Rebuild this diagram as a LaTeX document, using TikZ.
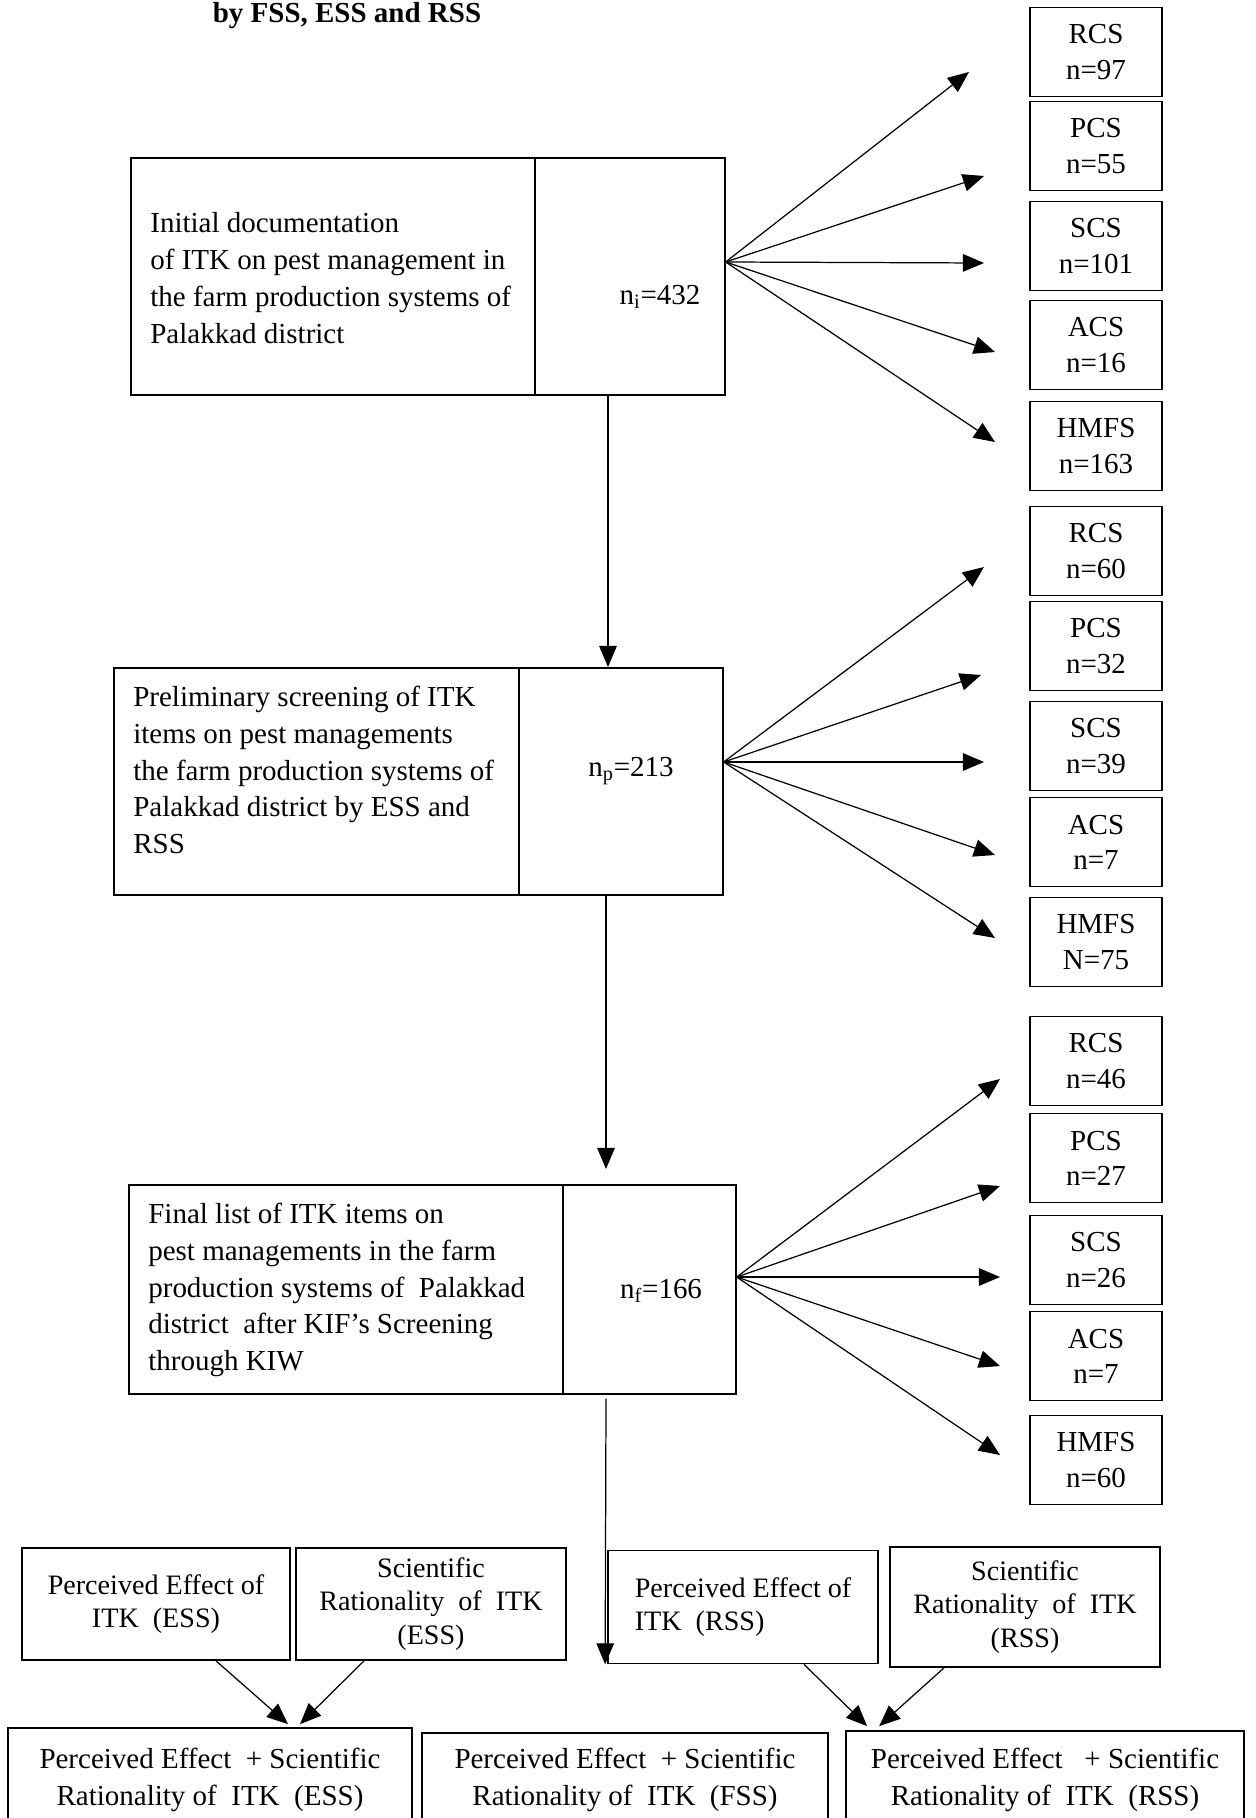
\documentclass[tikz,border=0pt]{standalone}
\usepackage{fontspec}
\setmainfont{Liberation Serif}
\usetikzlibrary{arrows.meta,calc,positioning}

\tikzset{
  stagebox/.style={draw, line width=1pt, inner sep=0pt, anchor=north west},
  stagetext/.style={align=left, inner sep=0pt, anchor=west},
  countbox/.style={draw, line width=1pt, minimum width=2.64cm, minimum height=1.78cm, align=center, inner sep=0pt, font=\fontsize{16.5}{20}\selectfont},
  effectbox/.style={draw, line width=1pt, inner sep=0pt, align=center, font=\fontsize{16}{19}\selectfont},
  sumbox/.style={draw, line width=1pt, inner sep=0pt, align=center},
  fan/.style={line width=0.7pt, -{Triangle[length=12pt,width=10pt]}},
}

\begin{document}
\begin{tikzpicture}[x=0.02cm, y=-0.02cm, font=\fontsize{16.5}{21}\selectfont]
	\clip (0,0) rectangle (1255,1818);
	
	%%%%% TITLE %%%%%
	\node[font=\bfseries\fontsize{16.5}{21}\selectfont] (title) at (347,16) {by FSS, ESS and RSS};
	
	%%%%% STAGES %%%%%
	\node[stagebox, minimum width=11.88cm, minimum height=4.74cm] (box1) at (130,157) {};
	\draw[line width=1pt] (535,157) -- (535,394);
	\node[stagetext] (txt1) at (150,278) {Initial documentation\\ of ITK on pest management in\\ the farm production systems of\\ Palakkad district};
	\node (ni) at (660,297) {n\textsubscript{i}=432};
	
	\node[stagebox, minimum width=12.18cm, minimum height=4.54cm] (box2) at (113,667) {};
	\draw[line width=1pt] (519,667) -- (519,894);
	\node[stagetext] (txt2) at (133,770) {Preliminary screening of ITK\\ items on pest managements\\ the farm production systems of\\ Palakkad district by ESS and\\ RSS};
	\node (np) at (631,771) {n\textsubscript{p}=213};
	
	\node[stagebox, minimum width=12.14cm, minimum height=4.18cm] (box3) at (128,1184) {};
	\draw[line width=1pt] (563,1184) -- (563,1393);
	\node[stagetext] (txt3) at (148,1290) {Final list of ITK items on\\ pest managements in the farm\\ production systems of~ Palakkad\\ district~ after KIF's Screening\\ through KIW};
	\node (nf) at (661,1291) {n\textsubscript{f}=166};
	
	%%%%% CATEGORY BOXES %%%%%
	\node[countbox] (rcsA) at (1096,52) {RCS\\ n=97};
	\node[countbox] (pcsA) at (1096,146) {PCS\\ n=55};
	\node[countbox] (scsA) at (1096,246) {SCS\\ n=101};
	\node[countbox] (acsA) at (1096,345) {ACS\\ n=16};
	\node[countbox] (hmfsA) at (1096,446) {HMFS\\ n=163};
	
	\node[countbox] (rcsB) at (1096,551) {RCS\\ n=60};
	\node[countbox] (pcsB) at (1096,646) {PCS\\ n=32};
	\node[countbox] (scsB) at (1096,746) {SCS\\ n=39};
	\node[countbox] (acsB) at (1096,842) {ACS\\ n=7};
	\node[countbox] (hmfsB) at (1096,942) {HMFS\\ N=75};
	
	\node[countbox] (rcsC) at (1096,1061) {RCS\\ n=46};
	\node[countbox] (pcsC) at (1096,1158) {PCS\\ n=27};
	\node[countbox] (scsC) at (1096,1260) {SCS\\ n=26};
	\node[countbox] (acsC) at (1096,1356) {ACS\\ n=7};
	\node[countbox] (hmfsC) at (1096,1460) {HMFS\\ n=60};
	
	%%%%% FANS %%%%%
	\coordinate (o1) at ($(box1.north east)+(0,105)$);
	\coordinate (t1a) at (969,72);
	\coordinate (t1b) at (984,176);
	\coordinate (t1c) at (984,263);
	\coordinate (t1d) at (995,352);
	\coordinate (t1e) at (995,442);
	\draw[fan] (o1) -- (t1a);
	\draw[fan] (o1) -- (t1b);
	\draw[fan] (o1) -- (t1c);
	\draw[fan] (o1) -- (t1d);
	\draw[fan] (o1) -- (t1e);
	
	\coordinate (o2) at ($(box2.north east)+(0,95)$);
	\coordinate (t2a) at (984,567);
	\coordinate (t2b) at (981,675);
	\coordinate (t2c) at (984,762);
	\coordinate (t2d) at (995,855);
	\coordinate (t2e) at (995,938);
	\draw[fan] (o2) -- (t2a);
	\draw[fan] (o2) -- (t2b);
	\draw[fan] (o2) -- (t2c);
	\draw[fan] (o2) -- (t2d);
	\draw[fan] (o2) -- (t2e);
	
	\coordinate (o3) at ($(box3.north east)+(0,93)$);
	\coordinate (t3a) at (1000,1079);
	\coordinate (t3b) at (1000,1186);
	\coordinate (t3c) at (1000,1277);
	\coordinate (t3d) at (1000,1366);
	\coordinate (t3e) at (1000,1455);
	\draw[fan] (o3) -- (t3a);
	\draw[fan] (o3) -- (t3b);
	\draw[fan] (o3) -- (t3c);
	\draw[fan] (o3) -- (t3d);
	\draw[fan] (o3) -- (t3e);
	
	%%%%% EFFECT BOXES %%%%%
	\node[effectbox, minimum width=5.36cm, minimum height=2.24cm] (peE) at (156,1604) {Perceived Effect of\\ ITK~ (ESS)};
	\node[effectbox, minimum width=5.4cm, minimum height=2.24cm] (srE) at (431,1604) {Scientific\\ Rationality~ of~ ITK\\ (ESS)};
	\node[effectbox, minimum width=5.4cm, minimum height=2.26cm, align=left] (peR) at (743,1607) {Perceived Effect of\\ ITK~ (RSS)};
	\node[effectbox, minimum width=5.4cm, minimum height=2.4cm] (srR) at (1025,1607) {Scientific\\ Rationality~ of~ ITK\\ (RSS)};
	
	\node[sumbox, minimum width=8.08cm, minimum height=2.08cm] (sumE) at (210,1780) {Perceived Effect~ + Scientific\\ Rationality of~ ITK~ (ESS)};
	\node[sumbox, minimum width=8.12cm, minimum height=1.88cm] (sumF) at (625,1780) {Perceived Effect~ + Scientific\\ Rationality of~ ITK~ (FSS)};
	\node[sumbox, minimum width=7.96cm, minimum height=1.96cm] (sumR) at (1045,1780) {Perceived Effect~~ + Scientific\\ Rationality of~ ITK~ (RSS)};
	
	%%%%% DOWN ARROWS %%%%%
	\draw[fan] ($(box1.south west)+(478,0)$) -- ($(box2.north west)+(495,0)$);
	\draw[fan] ($(box2.south west)+(493,0)$) -- ($(box3.north west)+(478,-15)$);
	\draw[fan] ($(box3.south west)+(478,4)$) -- ($(peR.south west)+(-2,0)$);
	
	\draw[fan] ($(peE.south)+(60,0)$) -- ($(sumE.north)+(78,-3)$);
	\draw[fan] ($(srE.south)+(-67,0)$) -- ($(sumE.north)+(90,-3)$);
	\draw[fan] ($(peR.south)+(61,0)$) -- ($(sumR.north west)+(22,-4)$);
	\draw[fan] ($(srR.south)+(-81,0)$) -- ($(sumR.north west)+(34,-4)$);
\end{tikzpicture}
\end{document}
